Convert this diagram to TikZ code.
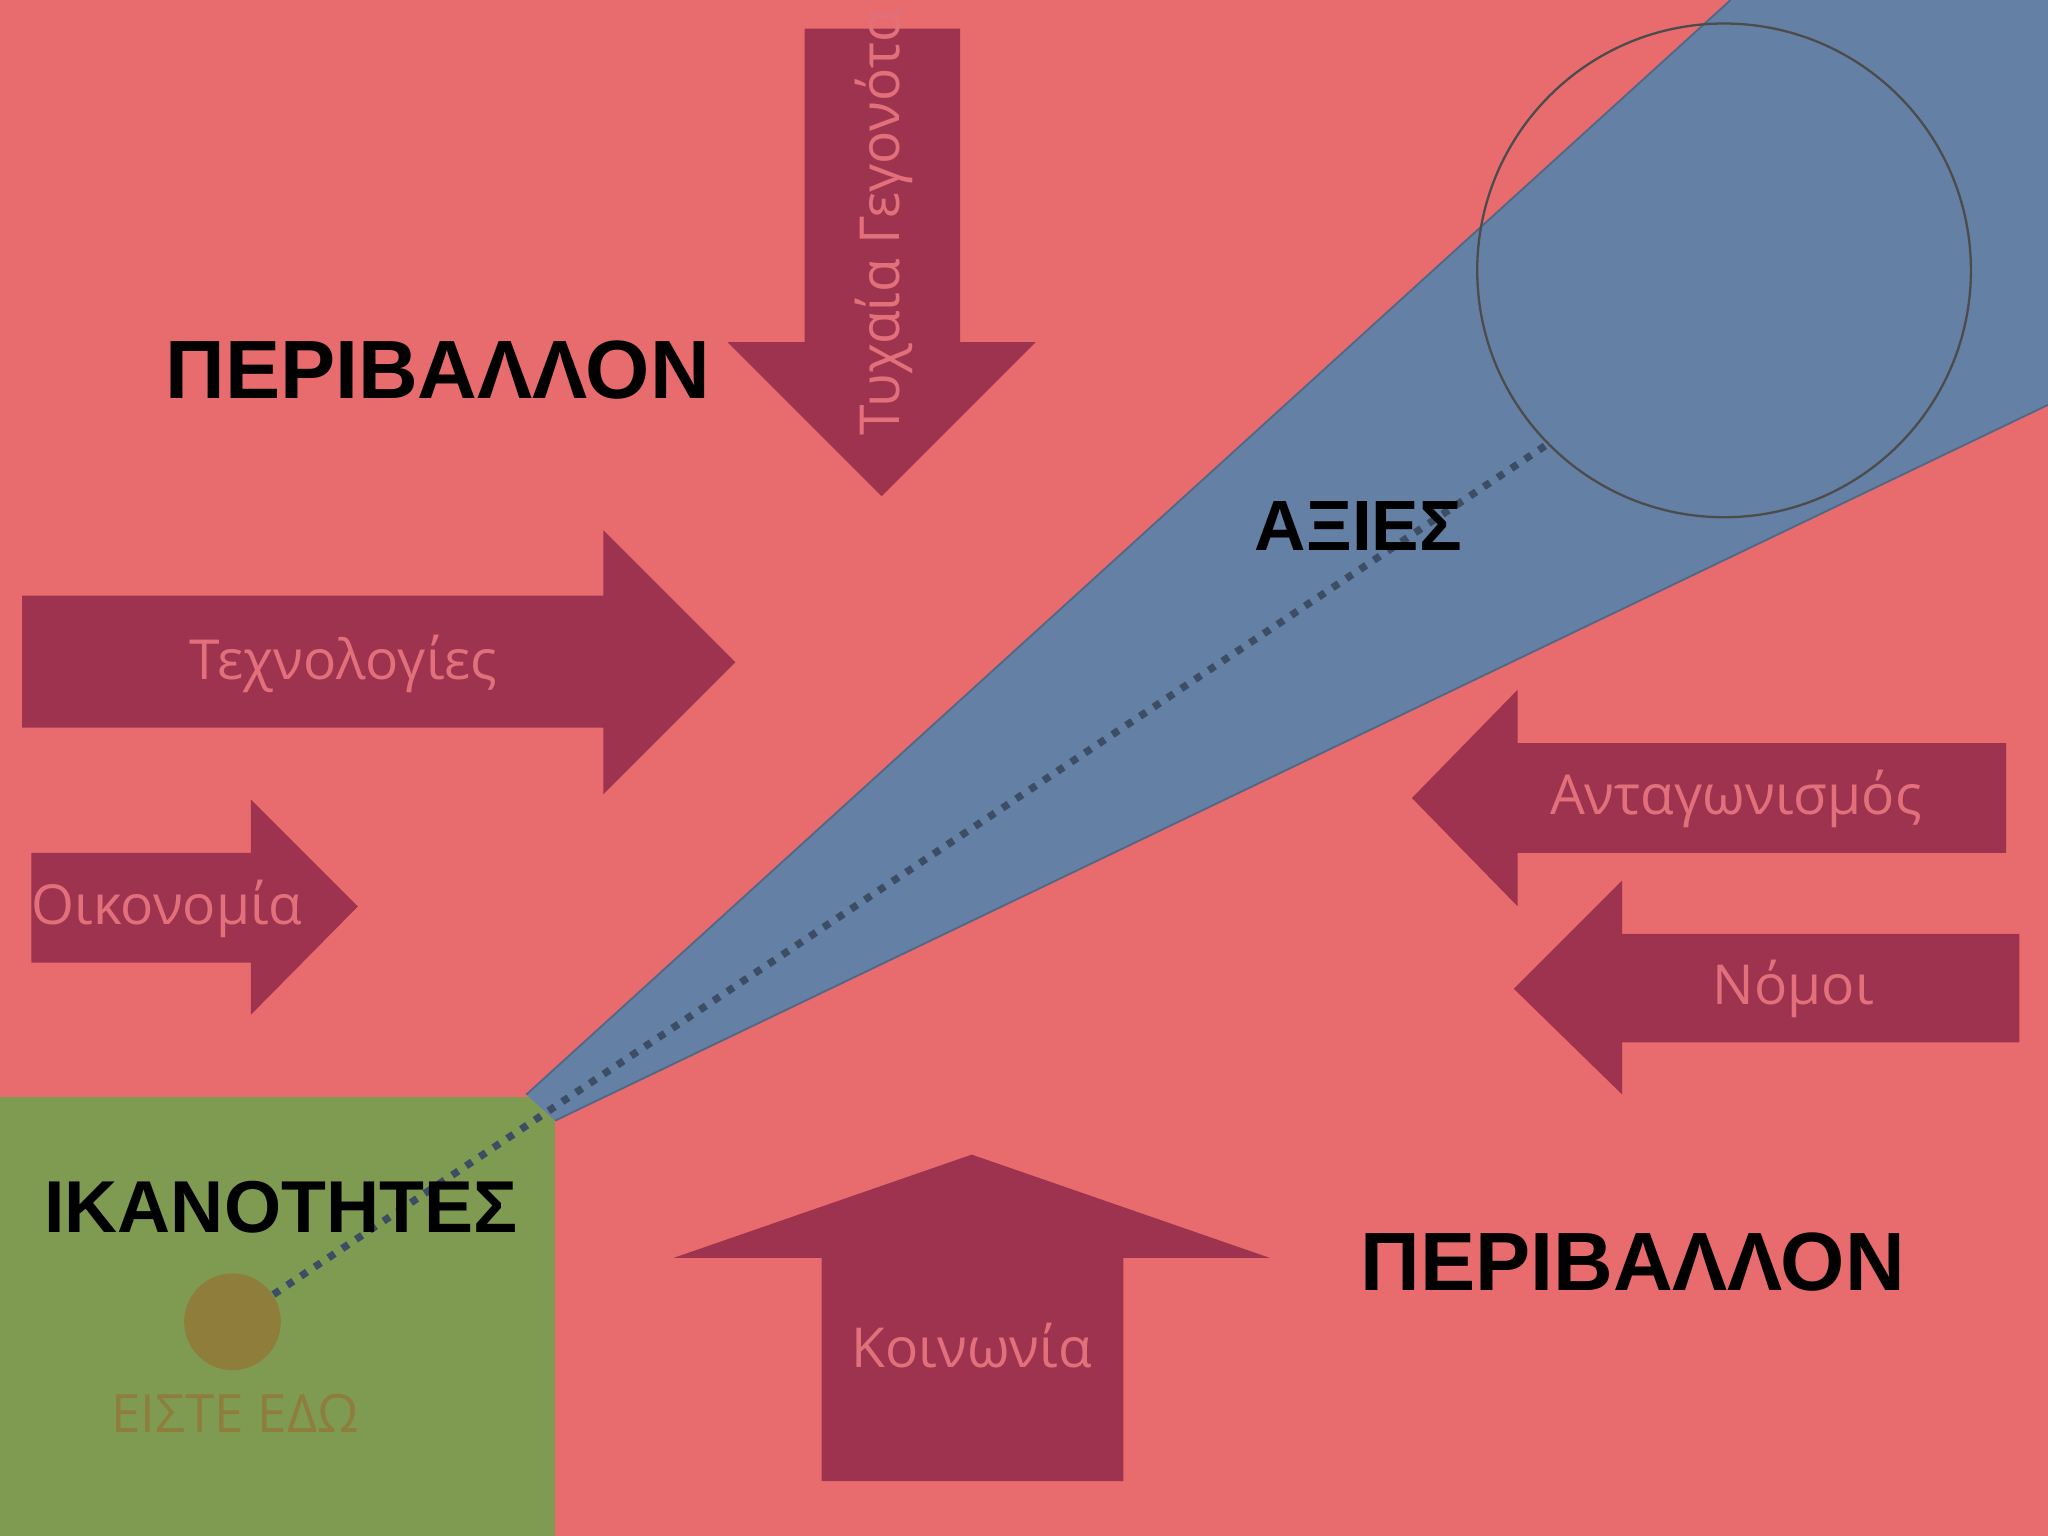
\documentclass[tikz,border=0pt]{standalone}
\usepackage{fontspec}
\setmainfont{Open Sans}
\newfontfamily\headfont{Liberation Sans}
\begin{document}
\begin{tikzpicture}[x=0.01cm,y=-0.01cm]
\definecolor{bgred}{HTML}{E86C6E}
\definecolor{arr}{HTML}{9E3350}
\definecolor{wedge}{HTML}{6580A5}
\definecolor{grn}{HTML}{7F9B52}
\definecolor{olive}{HTML}{8F7D3C}
\definecolor{lbl}{HTML}{E2707A}
\tikzset{arrshape/.style={fill=arr},
 lab/.style={text=lbl,font=\fontsize{12}{14}\selectfont},
 head/.style={font=\headfont\bfseries\fontsize{18}{20}\selectfont}}
\useasboundingbox (0,0) rectangle (1568,1176);
\fill[bgred] (0,0) rectangle (1568,1176);
% arrows
\fill[arrshape] (616,22)--(735,22)--(735,262)--(793,262)--(675,380)--(557,262)--(616,262)--cycle;
\fill[arrshape] (17,456)--(462,456)--(462,406)--(563,507)--(462,608)--(462,557)--(17,557)--cycle;
\fill[arrshape] (24,653)--(192,653)--(192,612)--(274,694)--(192,777)--(192,737)--(24,737)--cycle;
\fill[arrshape] (1536,569)--(1162,569)--(1162,528)--(1081,611)--(1162,694)--(1162,653)--(1536,653)--cycle;
\fill[arrshape] (1546,715)--(1242,715)--(1242,674)--(1159,757)--(1242,838)--(1242,798)--(1546,798)--cycle;
\fill[arrshape] (629,1134)--(629,963)--(516,963)--(744,884)--(972,963)--(860,963)--(860,1134)--cycle;
% green and wedge
\fill[grn] (0,840) rectangle (425,1176);
\fill[wedge] (403,838)--(1325,0)--(1568,0)--(1568,310)--(425,858)--cycle;
\draw[wedge!80!black,line width=0.4pt] (403,838)--(1325,0) (1568,310)--(425,858);
\node[circle,draw=black!70,line width=0.5pt,minimum size=378*0.01cm,inner sep=0] (big) at (1320,207) {};
\node[circle,fill=olive,minimum size=74*0.01cm,inner sep=0] (here) at (178,1012) {};
\draw[dotted,line width=1.6pt,draw=wedge!60!black] (here) -- (1185,340);
% labels
\node[lab,rotate=90] (t1) at (677,170) {Τυχαία Γεγονότα};
\node[lab] (t2) at (263,508) {Τεχνολογίες};
\node[lab] (t3) at (128,696) {Οικονομία};
\node[lab] (t4) at (1329,612) {Ανταγωνισμός};
\node[lab] (t5) at (1373,757) {Νόμοι};
\node[lab] (t6) at (744,1030) {Κοινωνία};
\node[head] (h1) at (335,283) {ΠΕΡΙΒΑΛΛΟΝ};
\node[head] (h2) at (1250,966) {ΠΕΡΙΒΑΛΛΟΝ};
\node[head,font=\headfont\bfseries\fontsize{15.5}{18}\selectfont] (h3) at (1040,403) {ΑΞΙΕΣ};
\node[head,font=\headfont\bfseries\fontsize{16}{18}\selectfont] (h4) at (215,924) {ΙΚΑΝΟΤΗΤΕΣ};
\node[text=olive,font=\fontsize{11.5}{14}\selectfont] (h5) at (180,1082) {ΕΙΣΤΕ ΕΔΩ};
\end{tikzpicture}
\end{document}
